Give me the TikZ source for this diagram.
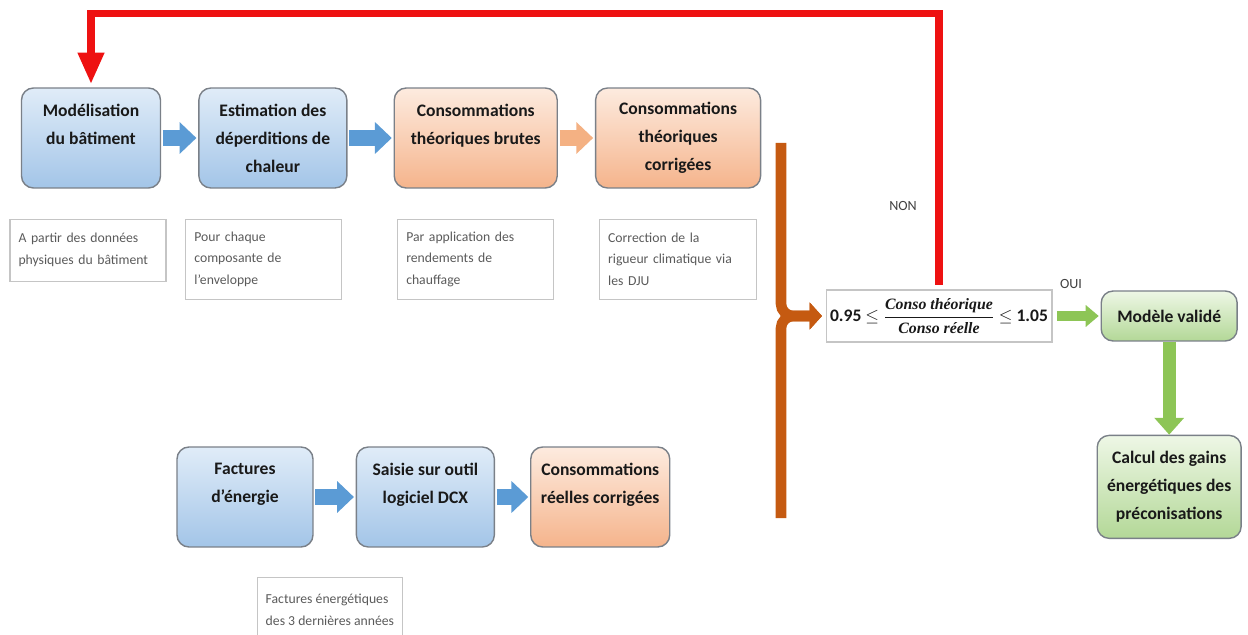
\documentclass[tikz,border=0pt]{standalone}
\usepackage{amsmath}
\usepackage{fontspec}
\setmainfont{Carlito}
\newfontfamily\fracfont{Liberation Serif}
\usetikzlibrary{positioning,arrows.meta}
\definecolor{blueA}{HTML}{E0ECF8}
\definecolor{blueB}{HTML}{A3C5E8}
\definecolor{orangeA}{HTML}{FDEBDF}
\definecolor{orangeB}{HTML}{F5B48C}
\definecolor{greenA}{HTML}{EEF7E6}
\definecolor{greenB}{HTML}{B3D897}
\definecolor{boxgray}{HTML}{7A8088}
\definecolor{notegray}{HTML}{5A5A5A}
\definecolor{labelgray}{HTML}{404040}
\definecolor{arrowblue}{HTML}{5B9BD5}
\definecolor{arroworange}{HTML}{F4B183}
\definecolor{bracebrown}{HTML}{C55A11}
\definecolor{loopred}{HTML}{EE1111}
\definecolor{arrowgreen}{HTML}{8DC556}
\newcommand{\fractext}[1]{\mbox{\fontsize{9}{10}\selectfont\fracfont\bfseries\itshape #1}}

\begin{document}
\begin{tikzpicture}[x=0.02cm, y=-0.02cm,
            fatarrow/.style={line width=9.6pt, -{Triangle[length=9.6pt, width=17.6pt]}, shorten <=1pt, shorten >=1pt},
            bracestyle/.style={line width=6pt, bracebrown, rounded corners=7pt, -{Triangle[length=7pt, width=15pt]}, shorten >=2pt},
            loopstyle/.style={line width=4.5pt, loopred, -{Triangle[length=18pt, width=14pt]}, shorten <=2.8pt, shorten >=1.7pt},
            okstyle/.style={line width=5.2pt, arrowgreen, -{Triangle[length=7.4pt, width=12pt]}, shorten <=2.8pt, shorten >=1pt},
            downstyle/.style={line width=7.4pt, arrowgreen, -{Triangle[length=9.6pt, width=16.4pt]}}]
            % The frame of the picture
            \useasboundingbox (0,0) rectangle (1248,635);
            % Box styles
            \tikzstyle{stepbox} = [draw=boxgray, line width=0.8pt, rounded corners=6.8pt, text centered, align=center, minimum height=2cm, inner sep=3pt, text=black!90, font=\fontsize{10}{16}\selectfont\bfseries]
            \tikzstyle{bluebox} = [stepbox, top color=blueA, bottom color=blueB]
            \tikzstyle{orangebox} = [stepbox, top color=orangeA, bottom color=orangeB]
            \tikzstyle{greenbox} = [stepbox, top color=greenA, bottom color=greenB]
            \tikzstyle{notebox} = [draw=notegray!35, line width=0.6pt, align=left, inner ysep=0.2cm, inner xsep=0.17cm, text=notegray, font=\fontsize{7.8}{12.4}\selectfont]
            \tikzstyle{labelnode} = [text=labelgray, font=\fontsize{8}{10}\selectfont]

            % Define the nodes: theoretical row
            \node (model) [bluebox, minimum width=2.78cm] at (91,138) {Modélisation\\du bâtiment\\\mbox{}};
            \node (estim) [bluebox, minimum width=2.96cm, right=0.74cm of model] {Estimation des\\déperditions de\\chaleur};
            \node (brut) [orangebox, minimum width=3.26cm, right=0.92cm of estim] {Consommations\\théoriques brutes\\\mbox{}};
            \node (corr) [orangebox, minimum width=3.30cm, right=0.74cm of brut] {Consommations\\théoriques\\corrigées};

            % Notes under the boxes
            \node (nmodel) [notebox, text width=2.78cm, minimum height=1.24cm, below=0.6cm of model, xshift=-0.06cm] {A partir des données\\physiques du bâtiment};
            \node (nestim) [notebox, text width=2.78cm, minimum height=1.6cm, below=0.6cm of estim, xshift=-0.18cm] {Pour chaque\\composante de\\l'enveloppe};
            \node (nbrut) [notebox, text width=2.78cm, minimum height=1.6cm, below=0.6cm of brut] {Par application des\\rendements de\\chauffage};
            \node (ncorr) [notebox, text width=2.8cm, minimum height=1.6cm, below=0.6cm of corr] {Correction de la\\rigueur climatique via\\les DJU};

            % Define the nodes: real row
            \node (fact) [bluebox, minimum width=2.72cm] at (245,497) {Factures\\d'énergie\\\mbox{}};
            \node (saisie) [bluebox, minimum width=2.76cm, right=0.84cm of fact] {Saisie sur outil\\logiciel DCX\\\mbox{}};
            \node (reel) [orangebox, minimum width=2.78cm, right=0.70cm of saisie] {Consommations\\réelles corrigées\\\mbox{}};
            \node (nfact) [notebox, minimum width=2.66cm, minimum height=1.3cm, below=0.58cm of saisie, xshift=-1.91cm] {Factures énergétiques\\des 3 dernières années};

            % Test and results
            \node (cond) [draw=notegray!35, line width=0.6pt, fill=white, minimum width=4.52cm, minimum height=1.04cm, inner sep=2pt, text=black!90, font=\fontsize{10}{12}\selectfont\bfseries] at (939,316) {0.95 $\leq$ $\dfrac{\fractext{Conso théorique}}{\fractext{Conso réelle}}$ $\leq$ 1.05};
            \node (valid) [greenbox, minimum width=2.72cm, minimum height=1cm, right=0.96cm of cond] {Modèle validé};
            \node (calc) [greenbox, minimum width=2.88cm, minimum height=2.06cm, below=1.86cm of valid] {Calcul des gains\\énergétiques des\\préconisations};
            \node (non) [labelnode] at (903,206) {NON};
            \node (oui) [labelnode] at (1071,284) {OUI};
            \coordinate (brtop) at (781,143);
            \coordinate (brbot) at (781,518);

            % Draw the arrows
            \draw [fatarrow, arrowblue] (model) -- (estim);
            \draw [fatarrow, arrowblue] (estim) -- (brut);
            \draw [fatarrow, arroworange] (brut) -- (corr);
            \draw [fatarrow, arrowblue] (fact) -- (saisie);
            \draw [fatarrow, arrowblue] (saisie) -- (reel);
            \draw [bracestyle] (brtop) |- (cond.west);
            \draw [bracestyle] (brbot) |- (cond.west);
            \draw [loopstyle] (cond.north) -- ++(0,-276) -| (model.north);
            \draw [okstyle] (cond) -- (valid);
            \draw [downstyle] (valid) -- (calc);
\end{tikzpicture}
\end{document}
